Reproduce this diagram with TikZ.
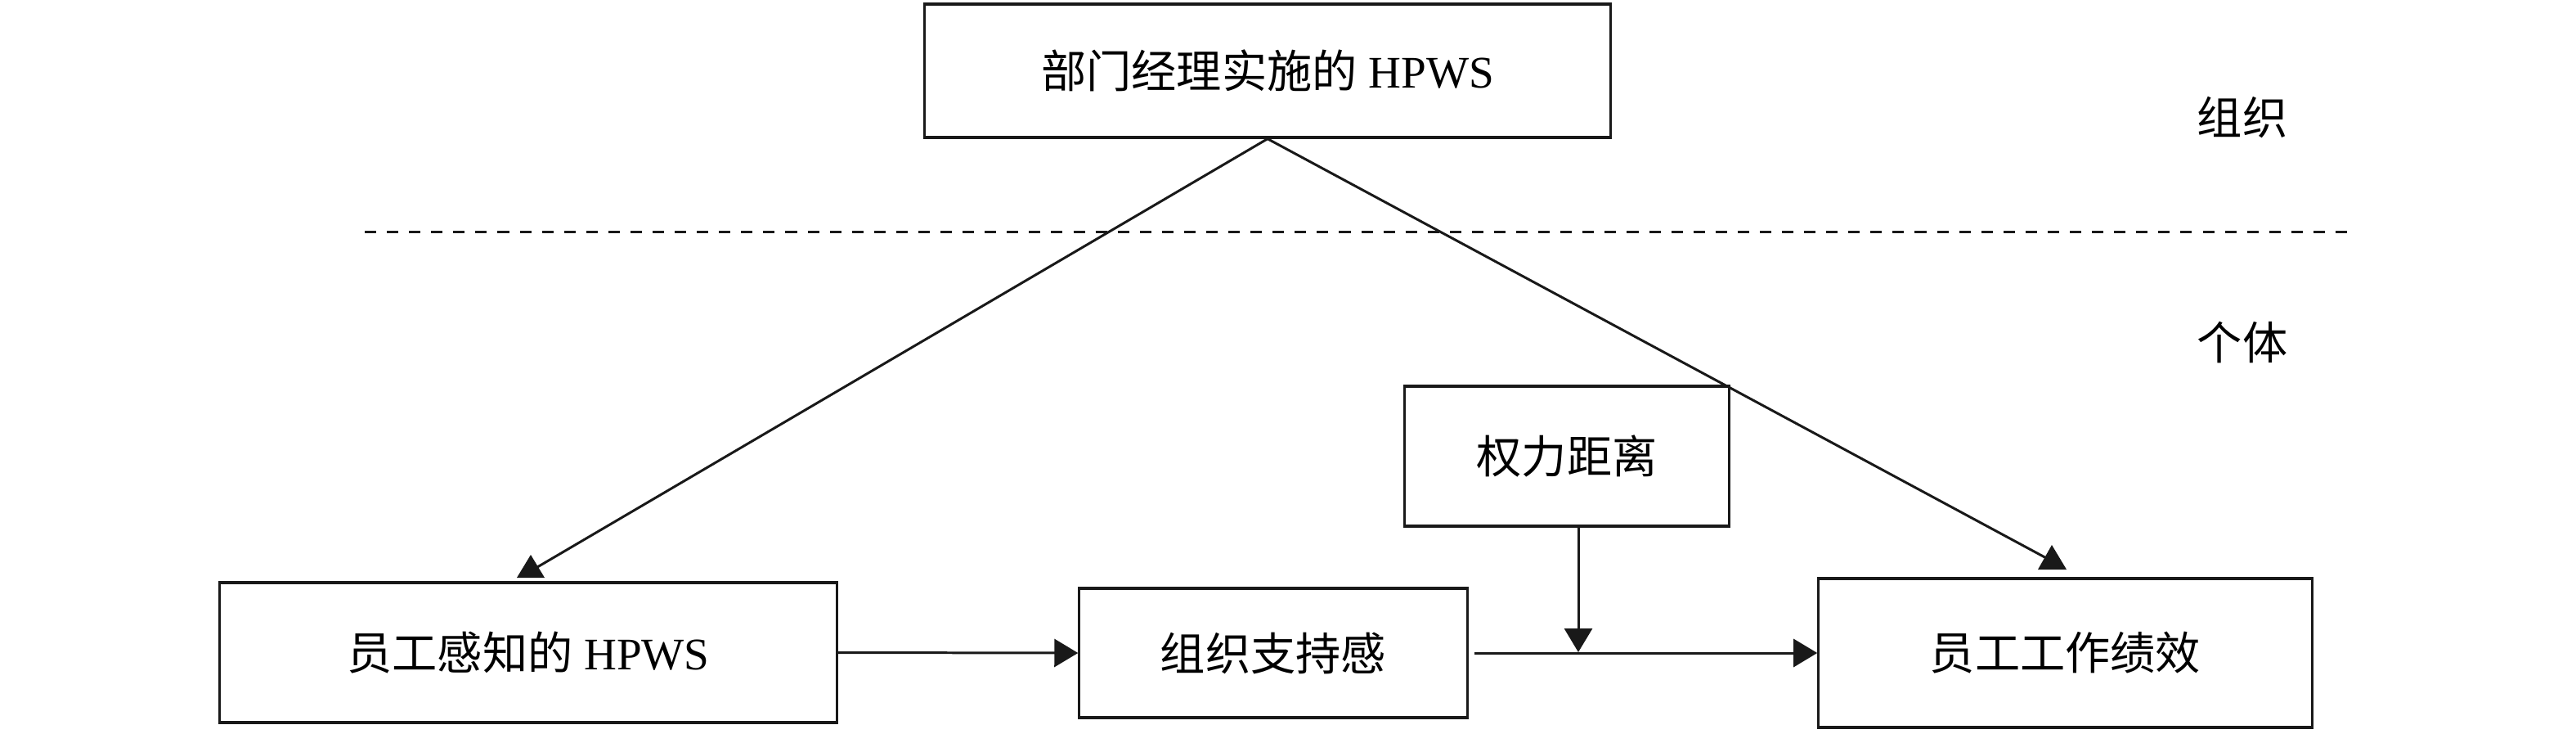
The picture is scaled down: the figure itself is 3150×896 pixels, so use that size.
\documentclass[tikz,border=0pt]{standalone}
\usepackage{fontspec}
\setmainfont{Liberation Serif}
\newfontfamily\cjk{Noto Sans CJK SC}
\usetikzlibrary{arrows.meta}
\begin{document}
\begin{tikzpicture}[x=0.01cm,y=-0.01cm,
  boxnode/.style={draw=black!90, line width=0.9pt, inner sep=0pt, font=\fontsize{15.7pt}{19pt}\selectfont},
  conn/.style={line width=0.85pt, draw=black!90, -{Triangle[length=0.29cm,width=0.34cm]}},
  plainline/.style={line width=0.85pt, draw=black!90},
  tipfill/.style={fill=black!90},
  lvl/.style={font=\fontsize{15.7pt}{19pt}\selectfont}]
\useasboundingbox (0,0) rectangle (3150,896);
\node[boxnode, minimum width=8.38cm, minimum height=1.63cm] (top) at (1550,86.5) {{\cjk 部门经理实施的} HPWS};
\node[boxnode, minimum width=7.54cm, minimum height=1.71cm] (phpws) at (646,797.5) {{\cjk 员工感知的} HPWS};
\node[boxnode, minimum width=4.74cm, minimum height=1.58cm] (pos) at (1557,798) {\cjk 组织支持感};
\node[boxnode, minimum width=6.03cm, minimum height=1.82cm] (perf) at (2525.5,798) {\cjk 员工工作绩效};
\node[boxnode, minimum width=3.97cm, minimum height=1.71cm] (pd) at (1916,557.5) {\cjk 权力距离};
\node[lvl] (org) at (2742,143) {\cjk 组织};
\node[lvl] (ind) at (2742,418) {\cjk 个体};
\coordinate (dl) at (446,283);
\coordinate (dr) at (2881,283);
\draw[line width=0.85pt, draw=black!90, dash pattern=on 4pt off 3.7pt] (dl) -- (dr);
% diagonal connectors with upright triangular heads
\coordinate (ltip) at (649,678);
\coordinate (lend) at (652,696);
\draw[plainline] (top.south) -- (lend);
\fill[tipfill] (ltip) -- (666,706) -- (632,706) -- cycle;
\coordinate (rtip) at (2509,666);
\coordinate (rend) at (2506,684);
\draw[plainline] (top.south) -- (rend);
\fill[tipfill] (rtip) -- (2527,696) -- (2492,696) -- cycle;
\draw[conn] (phpws.east) -- (pos.west);
\draw[conn, shorten <=2pt] (pos.east) -- (perf.west);
\coordinate (pdtop) at (1930,643);
\coordinate (pdend) at (1930,797);
\draw[conn] (pdtop) -- (pdend);
\end{tikzpicture}
\end{document}
